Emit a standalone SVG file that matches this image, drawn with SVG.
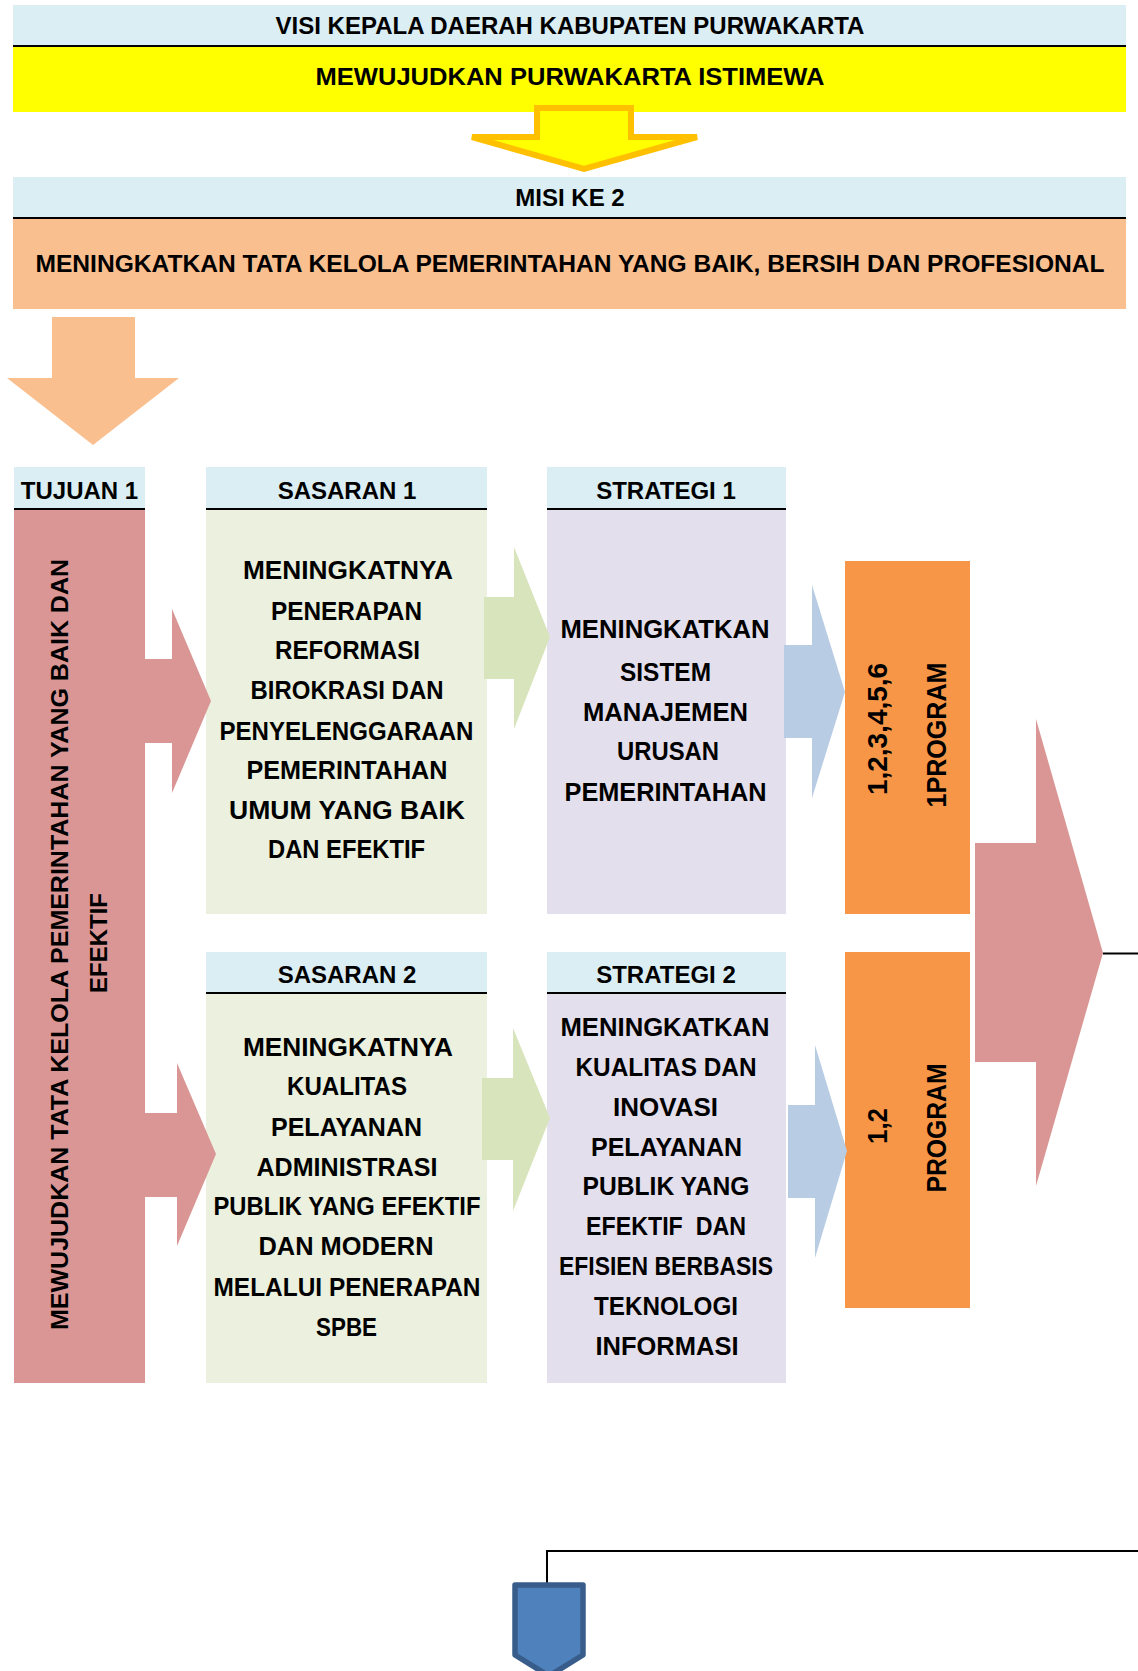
<svg xmlns="http://www.w3.org/2000/svg" width="1138" height="1671" viewBox="0 0 1138 1671">
<style>
.t{font-family:"Liberation Sans",Arial,sans-serif;font-weight:bold;fill:#000;text-anchor:middle;font-size:24px}
.b{font-size:25px}
.hdr{fill:#DAEEF3}
.rule{stroke:#000;stroke-width:2}
.red{fill:#DA9694}
.grn{fill:#EBF1DE}
.lav{fill:#E4DFEC}
.org{fill:#F79646}
.garr{fill:#D8E4BC}
.barr{fill:#B8CCE4}
.rot{font-size:27px}
</style>
<rect width="1138" height="1671" fill="#fff"/>

<g id="visi">
<rect class="hdr" x="13" y="5" width="1113" height="41"/>
<line class="rule" x1="13" y1="46" x2="1126" y2="46"/>
<text class="t" x="570" y="34">VISI KEPALA DAERAH KABUPATEN PURWAKARTA</text>
<rect x="13" y="47" width="1113" height="65" fill="#FFFF00"/>
<text class="t" x="570" y="85" textLength="509" lengthAdjust="spacingAndGlyphs">MEWUJUDKAN PURWAKARTA ISTIMEWA</text>
</g>

<g id="misi">
<rect class="hdr" x="13" y="177" width="1113" height="41"/>
<line class="rule" x1="13" y1="218" x2="1126" y2="218"/>
<text class="t" x="570" y="206">MISI KE 2</text>
<rect x="13" y="219" width="1113" height="90" fill="#FABF8F"/>
<text class="t" x="570" y="272" textLength="1069" lengthAdjust="spacingAndGlyphs">MENINGKATKAN TATA KELOLA PEMERINTAHAN YANG BAIK, BERSIH DAN PROFESIONAL</text>
</g>

<g id="tujuan1">
<rect class="hdr" x="14" y="467" width="131" height="42"/>
<line class="rule" x1="14" y1="509" x2="145" y2="509"/>
<text class="t" x="79.5" y="499">TUJUAN 1</text>
<rect class="red" x="14" y="510" width="131" height="873"/>
<text class="t" transform="translate(68,944.5) rotate(-90)" textLength="771" lengthAdjust="spacingAndGlyphs">MEWUJUDKAN TATA KELOLA PEMERINTAHAN YANG BAIK DAN</text>
<text class="t" transform="translate(107,943) rotate(-90)">EFEKTIF</text>
</g>

<g id="sasaran1">
<rect class="hdr" x="206" y="467" width="281" height="42"/>
<line class="rule" x1="206" y1="509" x2="487" y2="509"/>
<text class="t" x="347" y="499">SASARAN 1</text>
<rect class="grn" x="206" y="510" width="281" height="404"/>
<g class="t b" lengthAdjust="spacingAndGlyphs">
<text x="348" y="579" textLength="210" lengthAdjust="spacingAndGlyphs">MENINGKATNYA</text>
<text x="346.5" y="620" textLength="151" lengthAdjust="spacingAndGlyphs">PENERAPAN</text>
<text x="347.5" y="659" textLength="145" lengthAdjust="spacingAndGlyphs">REFORMASI</text>
<text x="347" y="699" textLength="193" lengthAdjust="spacingAndGlyphs">BIROKRASI DAN</text>
<text x="346.5" y="740" textLength="254" lengthAdjust="spacingAndGlyphs">PENYELENGGARAAN</text>
<text x="347" y="779" textLength="201" lengthAdjust="spacingAndGlyphs">PEMERINTAHAN</text>
<text x="347" y="819" textLength="236" lengthAdjust="spacingAndGlyphs">UMUM YANG BAIK</text>
<text x="346.5" y="858" textLength="157" lengthAdjust="spacingAndGlyphs">DAN EFEKTIF</text>
</g>
</g>

<g id="strategi1">
<rect class="hdr" x="547" y="467" width="239" height="42"/>
<line class="rule" x1="547" y1="509" x2="786" y2="509"/>
<text class="t" x="666" y="499">STRATEGI 1</text>
<rect class="lav" x="547" y="510" width="239" height="404"/>
<g class="t b">
<text x="665" y="638" textLength="209" lengthAdjust="spacingAndGlyphs">MENINGKATKAN</text>
<text x="665.5" y="681" textLength="91" lengthAdjust="spacingAndGlyphs">SISTEM</text>
<text x="665.5" y="721" textLength="165" lengthAdjust="spacingAndGlyphs">MANAJEMEN</text>
<text x="668" y="760" textLength="102" lengthAdjust="spacingAndGlyphs">URUSAN</text>
<text x="665.5" y="801" textLength="202" lengthAdjust="spacingAndGlyphs">PEMERINTAHAN</text>
</g>
</g>

<g id="program1">
<rect class="org" x="845" y="561" width="125" height="353"/>
<text class="t rot" transform="translate(887,729) rotate(-90)" textLength="132" lengthAdjust="spacingAndGlyphs">1,2,3,4,5,6</text>
<text class="t rot" transform="translate(946,735) rotate(-90)" textLength="145" lengthAdjust="spacingAndGlyphs">1PROGRAM</text>
</g>

<g id="sasaran2">
<rect class="hdr" x="206" y="952" width="281" height="41"/>
<line class="rule" x1="206" y1="993" x2="487" y2="993"/>
<text class="t" x="347" y="983">SASARAN 2</text>
<rect class="grn" x="206" y="994" width="281" height="389"/>
<g class="t b">
<text x="348" y="1056" textLength="210" lengthAdjust="spacingAndGlyphs">MENINGKATNYA</text>
<text x="347" y="1095" textLength="120" lengthAdjust="spacingAndGlyphs">KUALITAS</text>
<text x="346.5" y="1136" textLength="151" lengthAdjust="spacingAndGlyphs">PELAYANAN</text>
<text x="347" y="1176" textLength="181" lengthAdjust="spacingAndGlyphs">ADMINISTRASI</text>
<text x="347" y="1215" textLength="267" lengthAdjust="spacingAndGlyphs">PUBLIK YANG EFEKTIF</text>
<text x="346" y="1255" textLength="175" lengthAdjust="spacingAndGlyphs">DAN MODERN</text>
<text x="347" y="1296" textLength="267" lengthAdjust="spacingAndGlyphs">MELALUI PENERAPAN</text>
<text x="346.5" y="1336" textLength="61" lengthAdjust="spacingAndGlyphs">SPBE</text>
</g>
</g>

<g id="strategi2">
<rect class="hdr" x="547" y="952" width="239" height="41"/>
<line class="rule" x1="547" y1="993" x2="786" y2="993"/>
<text class="t" x="666" y="983">STRATEGI 2</text>
<rect class="lav" x="547" y="994" width="239" height="389"/>
<g class="t b">
<text x="665" y="1036" textLength="209" lengthAdjust="spacingAndGlyphs">MENINGKATKAN</text>
<text x="666" y="1076" textLength="181" lengthAdjust="spacingAndGlyphs">KUALITAS DAN</text>
<text x="665.5" y="1116" textLength="105" lengthAdjust="spacingAndGlyphs">INOVASI</text>
<text x="666.5" y="1156" textLength="151" lengthAdjust="spacingAndGlyphs">PELAYANAN</text>
<text x="666" y="1195" textLength="167" lengthAdjust="spacingAndGlyphs">PUBLIK YANG</text>
<text x="666" y="1235" textLength="160" lengthAdjust="spacingAndGlyphs" xml:space="preserve">EFEKTIF  DAN</text>
<text x="666" y="1275" textLength="214" lengthAdjust="spacingAndGlyphs">EFISIEN BERBASIS</text>
<text x="666" y="1315" textLength="144" lengthAdjust="spacingAndGlyphs">TEKNOLOGI</text>
<text x="667" y="1355" textLength="143" lengthAdjust="spacingAndGlyphs">INFORMASI</text>
</g>
</g>

<g id="program2">
<rect class="org" x="845" y="952" width="125" height="356"/>
<text class="t rot" transform="translate(887,1126) rotate(-90)" textLength="36" lengthAdjust="spacingAndGlyphs">1,2</text>
<text class="t rot" transform="translate(946,1128) rotate(-90)" textLength="129" lengthAdjust="spacingAndGlyphs">PROGRAM</text>
</g>

<g id="connectors">
<polygon points="537,108 631,108 631,137 697,137 584,169 472,137 537,137" fill="#FFFF00" stroke="#FFC000" stroke-width="6" stroke-linejoin="miter"/>
<polygon points="52,317 135,317 135,378 179,378 93,445 7,378 52,378" fill="#FABF8F"/>
<polygon class="red" points="145,659 172,659 172,609 211,701 172,793 172,743 145,743"/>
<polygon class="garr" points="484,597 514,597 514,547 550,637 514,729 514,679 484,679"/>
<polygon class="barr" points="784,645 812,645 812,585 845,692 812,798 812,738 784,738"/>
<polygon class="red" points="145,1113 177,1113 177,1063 216,1154 177,1246 177,1197 145,1197"/>
<polygon class="garr" points="482,1078 513,1078 513,1028 550,1118 513,1211 513,1160 482,1160"/>
<polygon class="barr" points="788,1105 815,1105 815,1045 847,1151 815,1258 815,1198 788,1198"/>
<polygon class="red" points="975,843 1036,843 1036,719 1103,953 1036,1186 1036,1062 975,1062"/>
<line x1="1103" y1="953.5" x2="1138" y2="953.5" stroke="#000" stroke-width="2"/>
<polyline points="1138,1551 547,1551 547,1585" fill="none" stroke="#000" stroke-width="2"/>
</g>

<g id="offpage">
<polygon points="515,1585 583,1585 583,1655 549,1676 515,1655" fill="#4F81BD" stroke="#385D8A" stroke-width="5.5" stroke-linejoin="round"/>
</g>
</svg>
